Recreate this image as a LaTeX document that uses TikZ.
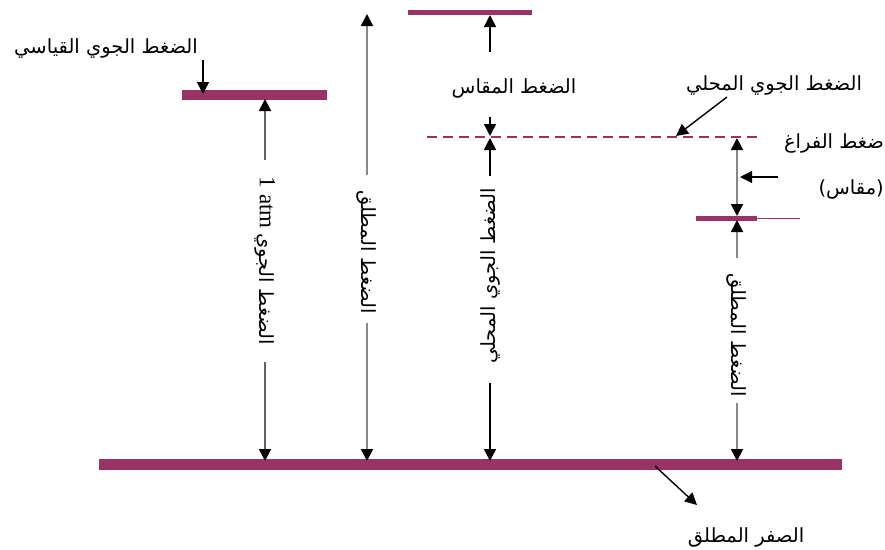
\documentclass[tikz,border=0pt]{standalone}
\usepackage{fontspec}
\setmainfont{Liberation Serif}
\newfontfamily\arabicfont[Script=Arabic]{DejaVu Sans}
\TeXXeTstate=1
\usetikzlibrary{arrows.meta}
\definecolor{barc}{RGB}{153,51,102}
\definecolor{dimg}{RGB}{135,135,135}
\definecolor{dimd}{RGB}{100,100,100}
\newcommand\artxt[1]{{\arabicfont\beginR #1\endR}}
\begin{document}
\begin{tikzpicture}[x=1pt,y=-1pt,
  bar/.style={draw=barc,line width=#1},
  bar/.default=10pt,
  tip/.style={-{Triangle[width=12pt,length=12pt,color=black]}},
  dtip/.style={{Triangle[width=12pt,length=12pt,color=black]}-{Triangle[width=12pt,length=12pt,color=black]}},
  dim/.style={line width=1.8pt,draw=dimg},
  blk/.style={line width=1.4pt,draw=black},
  lbl/.style={inner sep=0pt,font=\fontsize{19.5}{21}\selectfont},
  vlbl/.style={inner sep=0pt,font=\fontsize{19.5}{21}\selectfont},
]
\useasboundingbox (0,0) rectangle (885,549);

% bars
\coordinate (zeroL) at (99,464);
\coordinate (zeroR) at (842,464);
\draw[bar=11pt] (zeroL) -- (zeroR);
\coordinate (stdL) at (182,95);
\coordinate (stdR) at (327,95);
\draw[bar=10pt] (stdL) -- (stdR);
\coordinate (gauL) at (408,12.5);
\coordinate (gauR) at (532,12.5);
\draw[bar=5pt] (gauL) -- (gauR);
\coordinate (locL) at (427,137);
\coordinate (locR) at (758,137);
\draw[draw=barc,line width=1.8pt,dash pattern=on 10pt off 6pt] (locL) -- (locR);
\coordinate (vacL) at (696,218);
\coordinate (vacR) at (757,218);
\coordinate (vacE) at (800,218);
\draw[bar=5pt] (vacL) -- (vacR);
\draw[draw=barc,line width=0.6pt] (vacR) -- (vacE);

% column 1: standard atmosphere
\coordinate (c1top) at (265,99);
\coordinate (c1a) at (265,160);
\node[vlbl,rotate=-90] (t1) at (265,261) {{\fontsize{23}{23}\selectfont 1 atm} \artxt{الضغط الجوي}};
\coordinate (c1b) at (265,362);
\coordinate (c1bot) at (265,461);
\draw[dim,draw=dimd,tip] (c1a) -- (c1top);
\draw[dim,draw=dimd,tip] (c1b) -- (c1bot);

% column 2: absolute pressure
\coordinate (c2top) at (367,14);
\coordinate (c2a) at (367,175);
\node[vlbl,rotate=-90] (t2) at (367,252) {\artxt{الضغط المطلق}};
\coordinate (c2b) at (367,323);
\coordinate (c2bot) at (367,461);
\draw[dim,tip] (c2a) -- (c2top);
\draw[dim,tip] (c2b) -- (c2bot);

% column 3: gauge + local atmosphere
\coordinate (c3top) at (490,15);
\coordinate (c3a) at (490,52);
\node[lbl] (gauge) at (514,88) {\artxt{الضغط المقاس}};
\coordinate (c3b) at (490,117);
\coordinate (c3m1) at (490,136);
\coordinate (c3m2) at (490,138);
\coordinate (c3c) at (490,176);
\node[vlbl,rotate=90] (t3) at (490,276) {\artxt{الضغط الجوي المحلي}};
\coordinate (c3d) at (490,383);
\coordinate (c3bot) at (490,461);
\draw[blk,tip] (c3a) -- (c3top);
\draw[blk,tip] (c3b) -- (c3m1);
\draw[blk,tip] (c3c) -- (c3m2);
\draw[blk,tip] (c3d) -- (c3bot);

% column 4: vacuum + absolute
\coordinate (c4top) at (737,138);
\coordinate (c4vac) at (737,216);
\draw[dim,dtip] (c4top) -- (c4vac);
\coordinate (c4a) at (737,220);
\coordinate (c4b) at (737,258);
\node[vlbl,rotate=-90] (t4) at (737,335) {\artxt{الضغط المطلق}};
\coordinate (c4c) at (737,403);
\coordinate (c4bot) at (737,461);
\draw[dim,tip] (c4b) -- (c4a);
\draw[dim,tip] (c4c) -- (c4bot);

% vacuum label and arrow
\node[lbl,anchor=east] (vac1) at (884,143) {\artxt{ضغط الفراغ}};
\node[lbl,anchor=east] (vac2) at (884,189) {\artxt{(مقاس)}};
\coordinate (vaca) at (778,177);
\coordinate (vacb) at (740,177);
\draw[blk,tip] (vaca) -- (vacb);

% standard atmosphere label
\node[lbl] (stdlbl) at (106,48) {\artxt{الضغط الجوي القياسي}};
\coordinate (stda) at (203,60);
\coordinate (stdb) at (203,94);
\draw[blk,tip] (stda) -- (stdb);

% local atmosphere label
\node[lbl] (loclbl) at (774,85) {\artxt{الضغط الجوي المحلي}};
\coordinate (loca) at (727,97);
\coordinate (locb) at (676,136);
\draw[blk,tip] (loca) -- (locb);

% absolute zero label
\node[lbl] (zerolbl) at (746,537) {\artxt{الصفر المطلق}};
\coordinate (zeroa) at (655,466);
\coordinate (zerob) at (697,505);
\draw[blk,tip] (zeroa) -- (zerob);
\end{tikzpicture}
\end{document}
